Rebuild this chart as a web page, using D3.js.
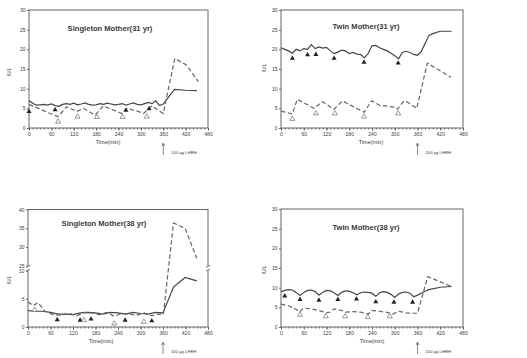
<!DOCTYPE html>
<html>
<head>
<meta charset="utf-8">
<script src="https://cdn.jsdelivr.net/npm/d3@7"></script>
<style>
  body { margin: 0; background: #fff; }
  svg { display: block; }
  text { font-family: "Liberation Sans", Arial, sans-serif; fill: #3a3a3a; }
</style>
</head>
<body>
<svg id="chart" width="527" height="358"></svg>
<script>
// ---- data (minutes, IU/L) ----
const xTicks = [0, 60, 120, 180, 240, 300, 360, 420, 480];

// Singleton Mother (31 yr)
const s31SolidT = [0,10,20,30,40,50,60,70,80,90,100,110,120,130,140,150,160,170,180,190,200,210,220,230,240,250,260,270,280,290,300,310,320,330,340,350,360,390,420,450];
const s31SolidV = [7.0,6.3,5.8,5.9,6.0,5.8,6.1,5.7,5.5,6.0,6.2,6.0,6.3,5.9,6.1,6.4,6.0,5.8,5.9,6.2,6.0,6.3,6.1,5.9,6.0,6.2,5.8,6.1,6.4,6.0,5.9,6.2,6.5,6.2,6.9,5.7,6.1,9.8,9.6,9.5];
const s31DashT = [0,30,56,78,101,128,146,177,199,225,249,262,290,307,329,360,391,422,454];
const s31DashV = [6.0,4.8,3.7,2.9,5.4,4.2,5.0,3.3,5.6,4.6,3.7,5.0,4.3,3.7,5.6,3.7,17.7,16.0,11.8];
const s31FilledT = [0,70,260,322];
const s31FilledV = [4.2,4.6,4.5,4.9];
const s31OpenT = [78,130,182,251,316];
const s31OpenV = [1.6,2.9,2.8,2.8,2.9];

// Twin Mother (31 yr)
const t31SolidT = [0,10,20,30,40,50,60,70,80,90,100,110,120,130,140,150,160,170,180,190,200,210,220,230,240,250,260,270,280,290,300,310,320,330,340,350,360,370,380,390,400,420,450];
const t31SolidV = [20.4,20.0,19.6,19.0,20.0,19.6,20.2,20.0,21.2,20.2,20.6,20.3,20.5,19.6,18.9,19.3,19.8,19.6,18.9,19.2,18.8,18.7,17.8,19.0,20.9,21.0,20.4,20.0,19.6,19.0,18.4,17.6,19.2,19.5,19.2,18.7,18.5,19.5,21.5,23.5,24.0,24.6,24.6];
const t31DashT = [0,30,43,87,109,140,162,219,239,259,300,307,325,335,358,386,448];
const t31DashV = [4.3,3.6,7.3,5.0,6.7,4.8,6.9,4.0,6.9,5.8,5.3,4.8,6.9,6.5,5.0,16.5,12.9];
const t31FilledT = [30,70,92,140,219,309];
const t31FilledV = [17.7,18.6,18.7,17.7,16.7,16.5];
const t31OpenT = [30,92,142,219,309];
const t31OpenV = [2.3,3.7,3.7,2.9,3.7];

// Singleton Mother (38 yr)
const s38SolidT = [0,20,40,60,80,100,120,140,160,180,200,220,240,260,280,300,320,340,360,388,419,450];
const s38SolidV = [2.9,2.8,2.8,2.6,2.3,2.3,2.2,2.5,2.6,2.5,2.3,2.6,2.5,2.3,2.6,2.4,2.3,2.6,2.5,7.1,8.8,8.2];
const s38DashT = [0,13,27,45,67,90,110,130,150,170,190,210,230,250,270,290,310,330,350,361,388,419,450];
const s38DashV = [4.5,3.8,4.3,2.8,2.2,2.1,2.4,2.0,2.6,2.5,2.2,2.6,1.9,2.4,2.3,2.1,2.5,2.0,2.3,2.2,36.4,35.0,27.0];
const s38FilledT = [78,139,168,259,330];
const s38FilledV = [1.3,1.2,1.4,1.2,1.1];
const s38OpenT = [18,149,230,309];
const s38OpenV = [3.0,1.2,0.6,0.9];

// Twin Mother (38 yr)
const t38SolidT = [0,10,20,30,40,50,60,70,80,90,100,110,120,130,140,150,160,170,180,190,200,210,220,230,240,250,260,270,280,290,300,310,320,330,340,350,360,370,380,390,420,450];
const t38SolidV = [9.0,9.3,9.5,9.4,8.8,8.0,8.8,9.3,9.4,9.0,8.1,8.8,9.3,9.2,8.7,8.0,8.8,9.2,9.1,8.7,8.2,8.7,8.9,8.8,8.6,7.8,8.7,9.0,8.8,8.3,7.5,8.4,8.8,8.9,8.6,7.7,8.1,8.6,9.1,9.5,10.1,10.3];
const t38DashT = [0,20,40,48,60,80,100,120,130,140,160,170,190,210,230,240,260,280,295,310,330,350,360,387,450];
const t38DashV = [5.8,5.4,4.5,3.8,4.8,4.6,4.2,3.6,3.8,4.6,4.2,3.8,3.9,3.8,3.3,4.2,4.0,3.7,3.3,4.0,3.6,3.5,3.5,12.8,10.3];
const t38FilledT = [10,50,100,150,199,250,298,347];
const t38FilledV = [7.9,7.0,6.8,7.0,7.1,6.4,6.3,6.3];
const t38OpenT = [50,118,169,229,287];
const t38OpenV = [3.1,2.7,2.7,2.5,2.7];

const zip = (t, v) => t.map((d, i) => ({ t: d, v: v[i] }));

// ---- panel layout ----
const panels = [
  { title: 'Singleton Mother(31 yr)', left: 29, right: 208, top: 10, bottom: 128,
    yDomain: [0, 30], yTicks: [0,5,10,15,20,25,30], titleX: 110, titleY: 31,
    labelX: 108, ylabX: 11, ylabY: 72,
    solid: zip(s31SolidT, s31SolidV), dashed: zip(s31DashT, s31DashV),
    filled: zip(s31FilledT, s31FilledV), open: zip(s31OpenT, s31OpenV) },
  { title: 'Twin Mother(31 yr)', left: 281, right: 463, top: 10, bottom: 128,
    yDomain: [0, 30], yTicks: [0,5,10,15,20,25,30], titleX: 366, titleY: 29,
    labelX: 371, ylabX: 266, ylabY: 68,
    solid: zip(t31SolidT, t31SolidV), dashed: zip(t31DashT, t31DashV),
    filled: zip(t31FilledT, t31FilledV), open: zip(t31OpenT, t31OpenV) },
  { title: 'Singleton Mother(38 yr)', left: 28, right: 208, top: 209.5, bottom: 327,
    yDomain: [0, 10, 25, 40], yRange: [327, 270.7, 265.7, 209.5], yTicks: [0,5,10,25,30,35,40],
    broken: [266.5, 270], titleX: 104, titleY: 226,
    labelX: 101, ylabX: 11, ylabY: 280,
    solid: zip(s38SolidT, s38SolidV), dashed: zip(s38DashT, s38DashV),
    filled: zip(s38FilledT, s38FilledV), open: zip(s38OpenT, s38OpenV) },
  { title: 'Twin Mother(38 yr)', left: 281, right: 463, top: 209, bottom: 327,
    yDomain: [0, 30], yTicks: [0,5,10,15,20,25,30], titleX: 366, titleY: 230,
    labelX: 372, ylabX: 266, ylabY: 270,
    solid: zip(t38SolidT, t38SolidV), dashed: zip(t38DashT, t38DashV),
    filled: zip(t38FilledT, t38FilledV), open: zip(t38OpenT, t38OpenV) }
];

const ink = '#444';
const svg = d3.select('#chart');

panels.forEach(p => {
  const g = svg.append('g');

  const x = d3.scaleLinear().domain([0, 480]).range([p.left, p.right]);
  const y = d3.scaleLinear().domain(p.yDomain)
    .range(p.yRange || [p.bottom, p.top]);

  // frame
  g.append('rect')
    .attr('x', p.left).attr('y', p.top)
    .attr('width', p.right - p.left).attr('height', p.bottom - p.top)
    .attr('fill', 'none').attr('stroke', '#666').attr('stroke-width', 1);

  // y axis
  const yAxis = g.append('g')
    .attr('transform', `translate(${p.left},0)`)
    .call(d3.axisLeft(y).tickValues(p.yTicks).tickSize(2).tickPadding(1.5));
  yAxis.select('.domain').remove();
  yAxis.selectAll('line').attr('stroke', '#666');
  yAxis.selectAll('text').style('font-size', '5px').attr('fill', '#444');

  // x axis, minor ticks
  const xMinor = g.append('g')
    .attr('transform', `translate(0,${p.bottom})`)
    .call(d3.axisBottom(x).tickValues(d3.range(0, 481, 10)).tickSize(1.5).tickFormat(''));
  xMinor.select('.domain').remove();
  xMinor.selectAll('line').attr('stroke', '#666');

  // x axis, major ticks
  const xAxis = g.append('g')
    .attr('transform', `translate(0,${p.bottom})`)
    .call(d3.axisBottom(x).tickValues(xTicks).tickSize(2.5).tickPadding(1.5));
  xAxis.select('.domain').remove();
  xAxis.selectAll('line').attr('stroke', '#555');
  xAxis.selectAll('text').style('font-size', '5px').attr('fill', '#444');

  // axis break
  if (p.broken) {
    [p.left, p.right].forEach(ax => {
      g.append('rect')
        .attr('x', ax - 1.5).attr('y', p.broken[0])
        .attr('width', 3).attr('height', p.broken[1] - p.broken[0])
        .attr('fill', '#fff');
      p.broken.forEach(by => {
        g.append('line')
          .attr('x1', ax - 2).attr('x2', ax + 2)
          .attr('y1', by + 1).attr('y2', by - 1)
          .attr('stroke', '#555').attr('stroke-width', 0.8);
      });
    });
  }

  const line = d3.line()
    .x(d => x(d.t))
    .y(d => y(d.v));

  g.append('path')
    .datum(p.solid)
    .attr('d', line)
    .attr('fill', 'none')
    .attr('stroke', ink)
    .attr('stroke-width', 1.2);

  g.append('path')
    .datum(p.dashed)
    .attr('d', line)
    .attr('fill', 'none')
    .attr('stroke', '#666')
    .attr('stroke-width', 1.2)
    .attr('stroke-dasharray', '4.5,2.5');

  const tri = d3.symbol().type(d3.symbolTriangle).size(11);

  g.selectAll('.filled')
    .data(p.filled)
    .enter().append('path')
    .attr('d', tri)
    .attr('transform', d => `translate(${x(d.t)},${y(d.v)})`)
    .attr('fill', '#222');

  g.selectAll('.open')
    .data(p.open)
    .enter().append('path')
    .attr('d', tri)
    .attr('transform', d => `translate(${x(d.t)},${y(d.v)})`)
    .attr('fill', '#fff')
    .attr('stroke', '#555')
    .attr('stroke-width', 0.6);

  // texts
  g.append('text')
    .attr('x', p.titleX).attr('y', p.titleY)
    .attr('text-anchor', 'middle')
    .style('font-size', '7.6px')
    .style('font-weight', 'bold')
    .attr('fill', '#444')
    .text(p.title);

  g.append('text')
    .attr('x', p.labelX).attr('y', p.bottom + 16)
    .attr('text-anchor', 'middle')
    .style('font-size', '5.5px')
    .text('Time(min)');

  g.append('text')
    .attr('transform', `translate(${p.ylabX},${p.ylabY}) rotate(-90)`)
    .attr('text-anchor', 'middle')
    .style('font-size', '4.5px')
    .text('IU/L');

  // LHRH arrow
  const ax = x(360);
  g.append('line')
    .attr('x1', ax).attr('x2', ax)
    .attr('y1', p.bottom + 16).attr('y2', p.bottom + 27)
    .attr('stroke', '#555').attr('stroke-width', 0.7);
  g.append('path')
    .attr('d', `M${ax - 1.5},${p.bottom + 18} L${ax},${p.bottom + 15} L${ax + 1.5},${p.bottom + 18}`)
    .attr('fill', 'none').attr('stroke', '#555').attr('stroke-width', 0.7);
  g.append('text')
    .attr('x', ax + 8).attr('y', p.bottom + 26)
    .style('font-size', '4.2px')
    .text('100 μg LHRH');
});
</script>
</body>
</html>
